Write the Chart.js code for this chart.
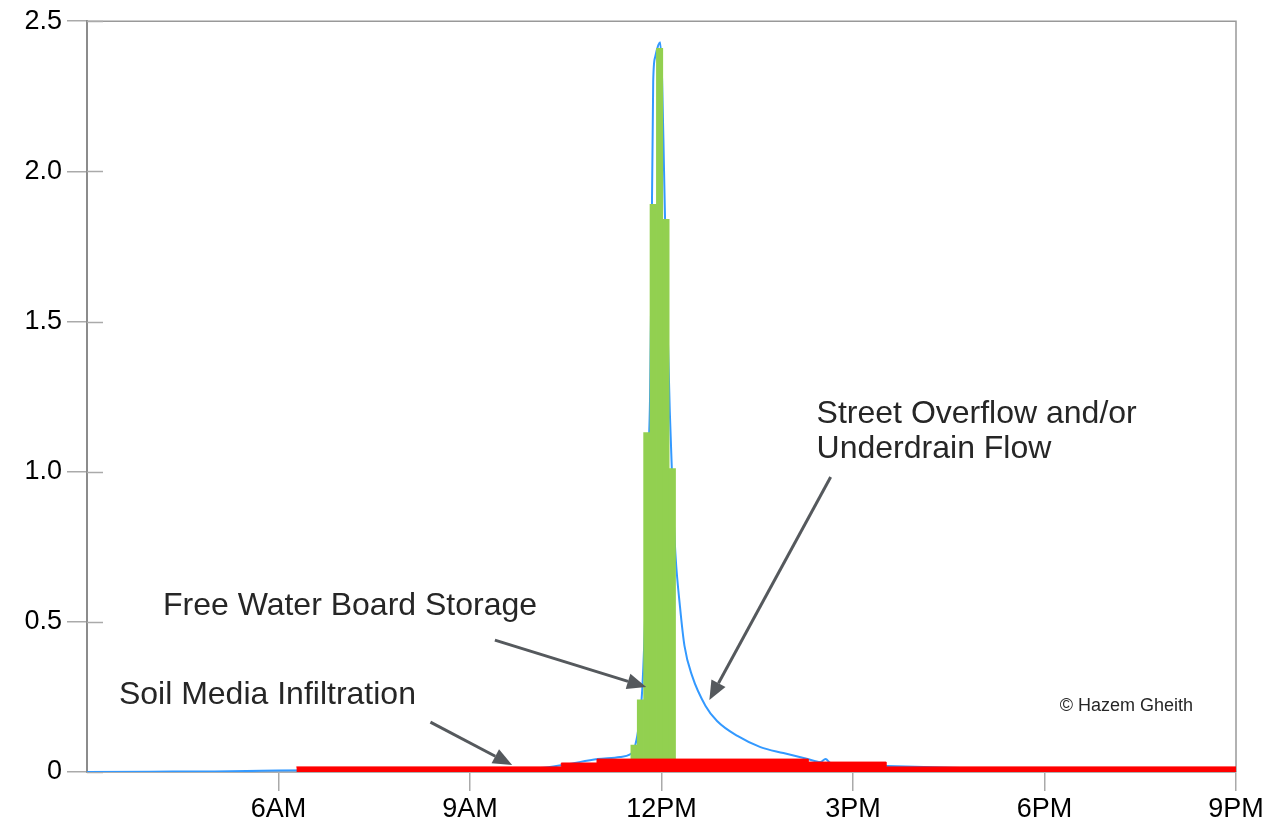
<!DOCTYPE html>
<html>
<head>
<meta charset="utf-8">
<script src="https://cdn.jsdelivr.net/npm/chart.js@4.4.1/dist/chart.umd.min.js"></script>
<style>
  html, body { margin: 0; padding: 0; background: #fff; }
  #wrap { width: 1286px; height: 821px; }
</style>
</head>
<body>
<div id="wrap"><canvas id="flowChart" width="1286" height="821"></canvas></div>
<script>
// x is hour of day (3 = 3AM ... 21 = 9PM)
const xTickHours = [6, 9, 12, 15, 18, 21];
const xTickLabels = ['6AM', '9AM', '12PM', '3PM', '6PM', '9PM'];

// Street overflow and/or underdrain flow (blue line)
const flowHours = [3, 4, 5, 5.5, 6, 7, 8, 9, 9.5, 10.1, 10.5, 11.0, 11.35, 11.5, 11.56, 11.62, 11.66,
  11.7, 11.75, 11.79, 11.82, 11.84, 11.87, 11.9, 11.95, 11.98, 12.01, 12.04, 12.08, 12.13, 12.18,
  12.22, 12.29, 12.36, 12.48, 12.69, 12.87, 13.19, 13.55, 13.91, 14.29, 14.49, 14.57, 14.65,
  15.0, 15.54, 16.68, 18, 21];
const flowValues = [0, 0.001, 0.002, 0.003, 0.005, 0.006, 0.007, 0.008, 0.01, 0.013, 0.025, 0.043, 0.05, 0.058, 0.07, 0.12, 0.18,
  0.28, 0.57, 1.02, 1.24, 1.62, 2.3, 2.38, 2.42, 2.43, 2.3, 2.0, 1.6, 1.2, 0.9,
  0.72, 0.55, 0.42, 0.32, 0.22, 0.17, 0.12, 0.083, 0.063, 0.043, 0.033, 0.043, 0.03,
  0.025, 0.02, 0.013, 0.008, 0.005];

// Free water board storage (green bars, 6 minute steps)
const storageHours = [11.57, 11.67, 11.77, 11.87, 11.97, 12.07, 12.17];
const storageValues = [0.09, 0.24, 1.13, 1.89, 2.41, 1.84, 1.01];

// Soil media infiltration (red steps, value holds until the next hour listed)
const infilHours = [6.28, 10.43, 10.99, 14.3, 15.52, 21];
const infilValues = [0.017, 0.03, 0.043, 0.033, 0.017, 0.017];

// annotations, anchored in chart units (hour, value)
const noteLines = [['Street Overflow and/or', 'Underdrain Flow'], ['Free Water Board Storage'], ['Soil Media Infiltration']];
const noteHours = [14.43, 4.19, 3.5];
const noteValues = [1.192, 0.553, 0.256];
const arrowFrom = [[14.65, 0.982], [9.39, 0.439], [8.38, 0.166]];
const arrowTo = [[12.75, 0.240], [11.76, 0.283], [9.66, 0.023]];
const creditText = '\u00A9 Hazem Gheith';
const creditAt = [18.24, 0.22];

const TEXT = '#262626';
const ARROW = '#55595d';
const AXIS = '#999999';
const FONT = '"Liberation Sans", Arial, sans-serif';

const toPoints = (xs, ys) => xs.map((h, i) => ({ x: h, y: ys[i] }));

// frame (top/right) and inner half of the crossing y ticks
const framePlugin = {
  id: 'frame',
  beforeDatasetsDraw(chart) {
    const { ctx, chartArea: a, scales: { y } } = chart;
    ctx.save();
    ctx.strokeStyle = AXIS;
    ctx.lineWidth = 1.5;
    ctx.beginPath();
    ctx.moveTo(a.left, a.top);
    ctx.lineTo(a.right, a.top);
    ctx.lineTo(a.right, a.bottom);
    ctx.stroke();
    ctx.strokeStyle = '#aaaaaa';
    y.ticks.forEach(t => {
      const py = Math.round(y.getPixelForValue(t.value)) + 0.5;
      ctx.beginPath();
      ctx.moveTo(a.left, py);
      ctx.lineTo(a.left + 16, py);
      ctx.stroke();
    });
    ctx.restore();
  }
};

const notesPlugin = {
  id: 'notes',
  afterDatasetsDraw(chart) {
    const { ctx, scales: { x, y } } = chart;
    ctx.save();

    // arrows
    ctx.strokeStyle = ARROW;
    ctx.fillStyle = ARROW;
    ctx.lineWidth = 3;
    arrowFrom.forEach((from, i) => {
      const fx = x.getPixelForValue(from[0]), fy = y.getPixelForValue(from[1]);
      const tx = x.getPixelForValue(arrowTo[i][0]), ty = y.getPixelForValue(arrowTo[i][1]);
      const ang = Math.atan2(ty - fy, tx - fx);
      const len = 19, half = 8;
      const bx = tx - Math.cos(ang) * len, by = ty - Math.sin(ang) * len;
      ctx.beginPath();
      ctx.moveTo(fx, fy);
      ctx.lineTo(bx, by);
      ctx.stroke();
      ctx.beginPath();
      ctx.moveTo(tx, ty);
      ctx.lineTo(bx + Math.sin(ang) * half, by - Math.cos(ang) * half);
      ctx.lineTo(bx - Math.sin(ang) * half, by + Math.cos(ang) * half);
      ctx.closePath();
      ctx.fill();
    });

    // labels
    ctx.fillStyle = TEXT;
    ctx.textAlign = 'left';
    ctx.textBaseline = 'middle';
    ctx.font = '32px ' + FONT;
    noteLines.forEach((lines, i) => {
      const px = x.getPixelForValue(noteHours[i]);
      const py = y.getPixelForValue(noteValues[i]);
      lines.forEach((line, j) => ctx.fillText(line, px, py + j * 35));
    });

    ctx.font = '18px ' + FONT;
    ctx.fillText(creditText, x.getPixelForValue(creditAt[0]), y.getPixelForValue(creditAt[1]));
    ctx.restore();
  }
};

new Chart(document.getElementById('flowChart'), {
  type: 'line',
  data: {
    datasets: [
      {
        type: 'line',
        label: 'Soil Media Infiltration',
        data: toPoints(infilHours, infilValues),
        stepped: 'before',
        borderColor: '#ff0000',
        backgroundColor: '#ff0000',
        borderWidth: 1,
        fill: 'origin',
        pointRadius: 0,
        order: 0
      },
      {
        type: 'bar',
        label: 'Free Water Board Storage',
        data: toPoints(storageHours, storageValues),
        backgroundColor: '#92d050',
        borderWidth: 0,
        barPercentage: 1,
        categoryPercentage: 1,
        order: 1
      },
      {
        type: 'line',
        label: 'Street Overflow and/or Underdrain Flow',
        data: toPoints(flowHours, flowValues),
        borderColor: '#3399ff',
        borderWidth: 2,
        pointRadius: 0,
        cubicInterpolationMode: 'monotone',
        fill: false,
        order: 2
      }
    ]
  },
  options: {
    responsive: false,
    animation: false,
    layout: { padding: { left: 0, top: 21, right: 50, bottom: 0 } },
    plugins: {
      legend: { display: false },
      tooltip: { enabled: false }
    },
    scales: {
      x: {
        type: 'linear',
        min: 3,
        max: 21,
        offset: false,
        afterBuildTicks: s => { s.ticks = xTickHours.map(v => ({ value: v })); },
        afterFit: s => { s.height = 49; },
        ticks: {
          autoSkip: false,
          maxRotation: 0,
          padding: 2,
          color: '#000',
          font: { family: FONT, size: 27 },
          callback: v => xTickLabels[xTickHours.indexOf(v)]
        },
        grid: { drawOnChartArea: false, drawTicks: true, tickLength: 19, color: '#aaaaaa', lineWidth: 1.5, offset: false },
        border: { display: true, color: '#b0b0b0', width: 2 }
      },
      y: {
        min: 0,
        max: 2.5,
        afterFit: s => { s.width = 87; },
        ticks: {
          stepSize: 0.5,
          padding: 5,
          color: '#000',
          font: { family: FONT, size: 27 },
          callback: v => (v === 0 ? '0' : v.toFixed(1))
        },
        grid: { drawOnChartArea: false, drawTicks: true, tickLength: 20, color: '#aaaaaa', lineWidth: 1.5 },
        border: { display: true, color: '#8c8c8c', width: 2 }
      }
    }
  },
  plugins: [framePlugin, notesPlugin]
});
</script>
</body>
</html>
